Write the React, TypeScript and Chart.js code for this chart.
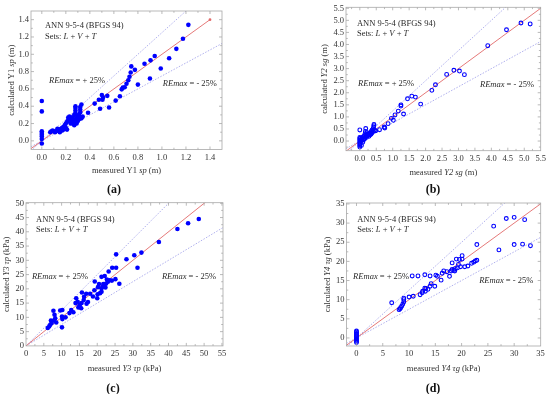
import { useEffect, useRef } from "react";
import { Chart, registerables } from "chart.js";
Chart.register(...registerables);

const W = 550;
const H = 394;
const FONT = '"Liberation Serif", "Times New Roman", serif';

// ---------- (a) Y1 sp (m) ----------
const measuredY1 = [
  0, 0, 0, 0, 0, 0, 0, 0, 0.07, 0.08,
  0.09, 0.10, 0.11, 0.12, 0.13, 0.13, 0.14, 0.15, 0.15, 0.16,
  0.17, 0.17, 0.18, 0.18, 0.19, 0.19, 0.20, 0.20, 0.21, 0.21,
  0.22, 0.22, 0.23, 0.23, 0.24, 0.24, 0.25, 0.25, 0.26, 0.26,
  0.27, 0.27, 0.27, 0.28, 0.28, 0.28, 0.28, 0.28, 0.29, 0.29,
  0.30, 0.30, 0.31, 0.31, 0.32, 0.32, 0.32, 0.33, 0.33, 0.34,
  0.385, 0.44, 0.475, 0.485, 0.50, 0.505, 0.51, 0.545, 0.56, 0.615,
  0.65, 0.665, 0.675, 0.69, 0.705, 0.72, 0.73, 0.74, 0.745, 0.775,
  0.80, 0.855, 0.90, 0.905, 0.94, 0.99, 1.06, 1.12, 1.175, 1.22,
];
const calculatedY1 = [
  0.46, 0.34, 0.11, 0.09, 0.07, 0.05, 0.02, -0.03, 0.10, 0.11,
  0.12, 0.11, 0.10, 0.11, 0.12, 0.14, 0.12, 0.13, 0.10, 0.14,
  0.15, 0.12, 0.16, 0.13, 0.18, 0.14, 0.20, 0.15, 0.22, 0.13,
  0.24, 0.27, 0.25, 0.28, 0.20, 0.27, 0.22, 0.27, 0.24, 0.20,
  0.18, 0.25, 0.30, 0.32, 0.35, 0.38, 0.40, 0.22, 0.26, 0.20,
  0.23, 0.28, 0.30, 0.25, 0.33, 0.36, 0.39, 0.42, 0.26, 0.28,
  0.325, 0.43, 0.475, 0.37, 0.53, 0.475, 0.50, 0.52, 0.385, 0.465,
  0.515, 0.595, 0.615, 0.62, 0.66, 0.70, 0.74, 0.79, 0.86, 0.82,
  0.65, 0.89, 0.72, 0.93, 0.98, 0.835, 0.955, 1.063, 1.18, 1.34,
];
const ticksY1 = [0, 0.2, 0.4, 0.6, 0.8, 1.0, 1.2, 1.4];

// ---------- (b) Y2 sg (m) ----------
const measuredY2 = [
  0, 0, 0, 0, 0, 0, 0, 0, 0, 0,
  0.02, 0.03, 0.04, 0.05, 0.06, 0.07, 0.08, 0.09, 0.10, 0.11,
  0.12, 0.13, 0.14, 0.15, 0.16, 0.17, 0.18, 0.19, 0.20, 0.21,
  0.22, 0.23, 0.25, 0.27, 0.28, 0.30, 0.31, 0.33, 0.34, 0.35,
  0.36, 0.37, 0.38, 0.40, 0.41, 0.42, 0.43, 0.43, 0.44, 0.47,
  0.48, 0.60, 0.74, 0.76, 0.86, 0.96, 1.02, 1.07, 1.17, 1.25,
  1.25, 1.33, 1.45, 1.58, 1.69, 1.85, 2.19, 2.30, 2.64, 2.86,
  3.03, 3.18, 3.89, 4.46, 4.90, 5.18,
];
const calculatedY2 = [
  0.46, 0.15, 0.10, 0.05, 0.00, -0.05, -0.10, -0.15, -0.20, -0.25,
  0.12, -0.02, 0.05, -0.18, 0.10, 0.02, 0.15, -0.05, 0.08, 0.18,
  0.05, 0.12, 0.22, 0.10, 0.30, 0.40, 0.52, 0.25, 0.15, 0.20,
  0.35, 0.22, 0.28, 0.25, 0.20, 0.30, 0.26, 0.35, 0.28, 0.40,
  0.32, 0.45, 0.36, 0.50, 0.40, 0.58, 0.64, 0.69, 0.45, 0.42,
  0.43, 0.47, 0.58, 0.54, 0.72, 0.94, 0.86, 1.08, 1.24, 1.45,
  1.50, 1.12, 1.75, 1.86, 1.82, 1.53, 2.10, 2.33, 2.76, 2.93,
  2.90, 2.75, 3.95, 4.61, 4.89, 4.85,
];
const ticksY2 = [0, 0.5, 1.0, 1.5, 2.0, 2.5, 3.0, 3.5, 4.0, 4.5, 5.0, 5.5];

// ---------- (c) Y3 tau_p (kPa) ----------
const measuredY3 = [
  48.5, 45.5, 42.5, 37.3, 32.4, 30.4, 31.3, 28.2, 25.3, 25.3,
  24.2, 26.2, 25.1, 24.1, 23.2, 22.1, 21.2, 22.5, 22.7, 21.7,
  21.2, 20.5, 19.3, 20.2, 21.2, 21.6, 22.1, 19.2, 20.1, 20.0,
  18.0, 18.8, 17.4, 16.9, 15.7, 16.3, 15.6, 14.7, 15.1, 15.5,
  14.1, 12.7, 13.3, 12.2, 13.9, 14.5, 16.2, 10.2, 9.6, 10.1,
  11.1, 10.2, 10.1, 7.7, 8.0, 7.9, 7.2, 6.8, 6.5, 6.1,
  8.2, 7.0, 8.5, 22.3, 23.0, 20.8, 23.5, 17.0, 15.0,
];
const calculatedY3 = [
  44.5, 43.0, 41.0, 36.4, 32.7, 31.8, 27.4, 30.4, 32.1, 27.4,
  27.4, 21.8, 23.4, 22.9, 26.1, 24.5, 24.2, 21.9, 23.3, 21.7,
  20.2, 21.7, 22.6, 20.6, 19.0, 20.8, 21.6, 19.5, 18.1, 16.7,
  18.3, 17.3, 15.4, 18.3, 18.7, 17.2, 15.0, 13.5, 14.4, 13.2,
  16.7, 12.6, 11.8, 11.5, 15.0, 15.5, 16.1, 12.6, 12.4, 10.3,
  10.0, 9.4, 6.5, 12.3, 10.9, 8.9, 8.0, 7.4, 6.8, 6.3,
  9.7, 8.9, 8.2, 20.5, 22.5, 18.5, 23.0, 14.8, 13.8,
];
const ticksY3x = [0, 5, 10, 15, 20, 25, 30, 35, 40, 45, 50, 55];
const ticksY3y = [0, 5, 10, 15, 20, 25, 30, 35, 40, 45, 50];

// ---------- (d) Y4 tau_g (kPa) ----------
const measuredY4 = [
  0, 0, 0, 0, 0, 0, 0, 0, 0, 0,
  0, 6.7, 8.1, 8.4, 8.6, 8.8, 9.0, 9.0, 9.0, 10.0,
  10.8, 10.6, 11.7, 13.0, 14.0, 12.1, 12.5, 13.2, 13.1, 13.6,
  14.0, 14.2, 14.9, 15.1, 15.4, 16.1, 16.3, 16.6, 17.2, 17.7,
  18.0, 18.2, 18.7, 18.8, 19.0, 19.2, 19.4, 19.6, 19.8, 20.1,
  20.1, 20.6, 21.2, 21.9, 22.3, 22.6, 22.9, 22.9, 26.1, 27.1,
  28.5, 30.0, 30.0, 31.6, 32.0, 33.1, 18.2, 18.5, 12.6, 13.0,
  8.3,
];
const calculatedY4 = [
  1.8, 1.5, 1.2, 0.9, 0.6, 0.3, 0.0, -0.3, -0.6, -0.9,
  -1.2, 9.2, 7.4, 7.9, 8.3, 8.8, 9.4, 10.0, 10.4, 10.7,
  10.9, 16.2, 16.2, 16.5, 16.2, 11.3, 11.8, 12.9, 12.2, 12.7,
  13.5, 14.2, 13.5, 16.4, 16.1, 15.1, 16.9, 17.5, 17.3, 16.1,
  17.5, 19.6, 17.5, 18.1, 20.6, 18.3, 19.2, 20.5, 18.6, 21.5,
  20.6, 18.6, 18.8, 19.5, 19.8, 20.1, 20.3, 24.4, 29.2, 23.0,
  31.2, 31.5, 24.4, 24.5, 30.9, 24.1, 17.9, 17.7, 12.2, 13.0,
  7.6,
];
const ticksY4 = [0, 5, 10, 15, 20, 25, 30, 35];

const reMax = 0.25;

type Seg = { t: string; i?: boolean };
type Note = { segs: Seg[]; fx: number; fy: number };

interface Panel {
  label: string;
  xs: number[];
  ys: number[];
  filled: boolean;
  xRange: [number, number];
  yRange: [number, number];
  xTicks: number[];
  yTicks: number[];
  decimals: number;
  area: { l: number; t: number; r: number; b: number };
  labelPos: [number, number];
  xTitle: Seg[];
  yTitle: Seg[];
  xTitleOff: number;
  yTitleOff: number;
  redEnd: number;
  redDot: boolean;
  notes: Note[];
}

const annLine: Seg[] = [{ t: "ANN 9-5-4 (BFGS 94)" }];
const setsLine: Seg[] = [
  { t: "Sets: " }, { t: "L", i: true }, { t: " + " }, { t: "V", i: true }, { t: " + " }, { t: "T", i: true },
];
const rePlus: Seg[] = [{ t: "REmax", i: true }, { t: " = + 25%" }];
const reMinus: Seg[] = [{ t: "REmax", i: true }, { t: " = - 25%" }];

function notes(a: number, b: number, c: number, d: number, e: number, f: number, g: number): Note[] {
  return [
    { segs: annLine, fx: a, fy: b },
    { segs: setsLine, fx: a, fy: c },
    { segs: rePlus, fx: d, fy: e },
    { segs: reMinus, fx: f, fy: g },
  ];
}

const panels: Panel[] = [
  {
    label: "(a)", xs: measuredY1, ys: calculatedY1, filled: true,
    xRange: [-0.09, 1.5], yRange: [-0.1, 1.5], xTicks: ticksY1, yTicks: ticksY1, decimals: 1,
    area: { l: 31, t: 11, r: 222, b: 149.5 }, labelPos: [114, 190],
    xTitle: [{ t: "measured Y1 " }, { t: "sp", i: true }, { t: " (m)" }],
    yTitle: [{ t: "calculated Y1 " }, { t: "sp", i: true }, { t: " (m)" }],
    xTitleOff: 21, yTitleOff: 19, redEnd: 1.4, redDot: true,
    notes: notes(0.073, 0.108, 0.188, 0.094, 0.505, 0.69, 0.527),
  },
  {
    label: "(b)", xs: measuredY2, ys: calculatedY2, filled: false,
    xRange: [-0.42, 5.5], yRange: [-0.4, 5.54], xTicks: ticksY2, yTicks: ticksY2, decimals: 1,
    area: { l: 346, t: 7.3, r: 540.7, b: 150.7 }, labelPos: [433, 190],
    xTitle: [{ t: "measured " }, { t: "Y2 sg", i: true }, { t: " (m)" }],
    yTitle: [{ t: "calculated " }, { t: "Y2 sg", i: true }, { t: " (m)" }],
    xTitleOff: 22, yTitleOff: 21, redEnd: 5.6, redDot: false,
    notes: notes(0.056, 0.116, 0.186, 0.062, 0.535, 0.688, 0.542),
  },
  {
    label: "(c)", xs: measuredY3, ys: calculatedY3, filled: true,
    xRange: [0, 55.3], yRange: [0, 50.2], xTicks: ticksY3x, yTicks: ticksY3y, decimals: 0,
    area: { l: 26, t: 202.7, r: 223, b: 345.9 }, labelPos: [113, 389],
    xTitle: [{ t: "measured " }, { t: "Y3 τp", i: true }, { t: " (kPa)" }],
    yTitle: [{ t: "calculated " }, { t: "Y3 τp", i: true }, { t: " (kPa)" }],
    xTitleOff: 23, yTitleOff: 19, redEnd: 56, redDot: false,
    notes: notes(0.051, 0.121, 0.191, 0.03, 0.52, 0.69, 0.52),
  },
  {
    label: "(d)", xs: measuredY4, ys: calculatedY4, filled: false,
    xRange: [-1.9, 35.05], yRange: [-2.1, 35.25], xTicks: ticksY4, yTicks: ticksY4, decimals: 0,
    area: { l: 346.5, t: 203, r: 540.7, b: 346 }, labelPos: [433, 389],
    xTitle: [{ t: "measured " }, { t: "Y4 τg", i: true }, { t: " (kPa)" }],
    yTitle: [{ t: "calculated " }, { t: "Y4 τg", i: true }, { t: " (kPa)" }],
    xTitleOff: 23, yTitleOff: 19, redEnd: 36, redDot: false,
    notes: notes(0.055, 0.119, 0.189, 0.034, 0.517, 0.683, 0.545),
  },
];

function drawRich(ctx: CanvasRenderingContext2D, segs: Seg[], x: number, y: number, size: number, center: boolean, color: string) {
  const fonts = segs.map((s) => `${s.i ? "italic " : ""}${size}px ${FONT}`);
  const widths = segs.map((s, k) => {
    ctx.font = fonts[k];
    return ctx.measureText(s.t).width;
  });
  const total = widths.reduce((p, q) => p + q, 0);
  let cx = center ? x - total / 2 : x;
  ctx.fillStyle = color;
  ctx.textBaseline = "middle";
  ctx.textAlign = "left";
  segs.forEach((s, k) => {
    ctx.font = fonts[k];
    ctx.fillText(s.t, cx, y);
    cx += widths[k];
  });
}

function makeChart(canvas: HTMLCanvasElement, p: Panel) {
  const blue = "#0000ff";
  const red = "#e26a6a";
  const lav = "#9c9ce8";
  const [x0, x1] = p.xRange;
  const pts = p.xs.map((x, k) => ({ x, y: p.ys[k] }));
  const lo = Math.min(x0, p.yRange[0]);
  const framePlugin = {
    id: "frame" + p.label,
    afterDraw(chart: any) {
      const ctx = chart.ctx as CanvasRenderingContext2D;
      const a = chart.chartArea;
      const sx = chart.scales.x;
      const sy = chart.scales.y;
      ctx.save();
      ctx.strokeStyle = "#a8a8a8";
      ctx.lineWidth = 0.8;
      ctx.strokeRect(a.left, a.top, a.right - a.left, a.bottom - a.top);
      ctx.beginPath();
      const tickMarks = (vals: number[], horiz: boolean) => {
        const step = vals[1] - vals[0];
        const all: { v: number; len: number }[] = [];
        for (let k = -1; k < vals.length; k++) {
          const v = vals[0] + k * step;
          all.push({ v, len: 3 });
          all.push({ v: v + step / 2, len: 1.8 });
        }
        all.forEach(({ v, len }) => {
          if (horiz) {
            const px = sx.getPixelForValue(v);
            if (px < a.left + 0.5 || px > a.right - 0.5) return;
            ctx.moveTo(px, a.bottom); ctx.lineTo(px, a.bottom - len);
            ctx.moveTo(px, a.top); ctx.lineTo(px, a.top + len);
          } else {
            const py = sy.getPixelForValue(v);
            if (py < a.top + 0.5 || py > a.bottom - 0.5) return;
            ctx.moveTo(a.left, py); ctx.lineTo(a.left + len, py);
            ctx.moveTo(a.right, py); ctx.lineTo(a.right - len, py);
          }
        });
      };
      tickMarks(p.xTicks, true);
      tickMarks(p.yTicks, false);
      ctx.stroke();
      const w = a.right - a.left;
      const h = a.bottom - a.top;
      p.notes.forEach((n) => drawRich(ctx, n.segs, a.left + n.fx * w, a.top + n.fy * h, 8.5, false, "#2a2a2a"));
      drawRich(ctx, p.xTitle, (a.left + a.right) / 2, a.bottom + p.xTitleOff, 8.5, true, "#333");
      ctx.save();
      ctx.translate(a.left - p.yTitleOff, (a.top + a.bottom) / 2);
      ctx.rotate(-Math.PI / 2);
      drawRich(ctx, p.yTitle, 0, 0, 8.5, true, "#333");
      ctx.restore();
      ctx.fillStyle = "#111";
      ctx.font = `bold 12px ${FONT}`;
      ctx.textAlign = "center";
      ctx.textBaseline = "middle";
      ctx.fillText(p.label, p.labelPos[0], p.labelPos[1]);
      ctx.restore();
    },
  };
  const tickFont = { family: FONT, size: 8.5 };
  return new Chart(canvas, {
    type: "scatter",
    data: {
      datasets: [
        {
          type: "scatter",
          data: pts,
          pointRadius: p.filled ? 2.3 : 1.9,
          pointBackgroundColor: p.filled ? blue : "rgba(0,0,0,0)",
          pointBorderColor: blue,
          pointBorderWidth: p.filled ? 0 : 1.1,
        } as any,
        {
          type: "line",
          data: [{ x: lo, y: lo }, { x: p.redEnd, y: p.redEnd }],
          borderColor: red,
          borderWidth: 0.9,
          pointRadius: [0, p.redDot ? 1.4 : 0],
          pointBackgroundColor: red,
          pointBorderWidth: 0,
        } as any,
        {
          type: "line",
          data: [{ x: x0, y: (1 + reMax) * x0 }, { x: x1, y: (1 + reMax) * x1 }],
          borderColor: lav,
          borderWidth: 0.8,
          borderDash: [1.5, 1.5],
          pointRadius: 0,
        } as any,
        {
          type: "line",
          data: [{ x: x0, y: (1 - reMax) * x0 }, { x: x1, y: (1 - reMax) * x1 }],
          borderColor: lav,
          borderWidth: 0.8,
          borderDash: [1.5, 1.5],
          pointRadius: 0,
        } as any,
      ],
    },
    options: {
      animation: false,
      responsive: false,
      events: [],
      layout: { padding: { left: 0, top: p.area.t, right: W - p.area.r, bottom: 0 } },
      plugins: { legend: { display: false }, tooltip: { enabled: false } },
      scales: {
        x: {
          type: "linear",
          position: "bottom",
          min: p.xRange[0],
          max: p.xRange[1],
          grid: { display: false, drawTicks: false, tickLength: 0 },
          border: { display: false },
          ticks: {
            font: tickFont, color: "#333", padding: 3, maxRotation: 0, autoSkip: false,
            callback: (v: any) => Number(v).toFixed(p.decimals),
          },
          afterBuildTicks: (s: any) => { s.ticks = p.xTicks.map((v) => ({ value: v })); },
          afterFit: (s: any) => {
            s.height = H - p.area.b;
            s.paddingLeft = 0; s.paddingRight = 0; s.paddingTop = 0; s.paddingBottom = 0;
          },
        },
        y: {
          type: "linear",
          position: "left",
          min: p.yRange[0],
          max: p.yRange[1],
          grid: { display: false, drawTicks: false, tickLength: 0 },
          border: { display: false },
          ticks: {
            font: tickFont, color: "#333", padding: 2, autoSkip: false,
            callback: (v: any) => Number(v).toFixed(p.decimals),
          },
          afterBuildTicks: (s: any) => { s.ticks = p.yTicks.map((v) => ({ value: v })); },
          afterFit: (s: any) => {
            s.width = p.area.l;
            s.paddingLeft = 0; s.paddingRight = 0; s.paddingTop = 0; s.paddingBottom = 0;
          },
        },
      },
    } as any,
    plugins: [framePlugin],
  });
}

function PanelCanvas({ p }: { p: Panel }) {
  const ref = useRef<HTMLCanvasElement | null>(null);
  useEffect(() => {
    if (!ref.current) return;
    const c = makeChart(ref.current, p);
    return () => c.destroy();
  }, [p]);
  return (
    <canvas
      ref={ref}
      width={W}
      height={H}
      style={{ position: "absolute", left: 0, top: 0, width: W, height: H }}
    />
  );
}

export default function App() {
  return (
    <div style={{ position: "absolute", left: 0, top: 0, width: W, height: H, background: "#fff", overflow: "hidden" }}>
      {panels.map((p) => (
        <PanelCanvas key={p.label} p={p} />
      ))}
    </div>
  );
}
